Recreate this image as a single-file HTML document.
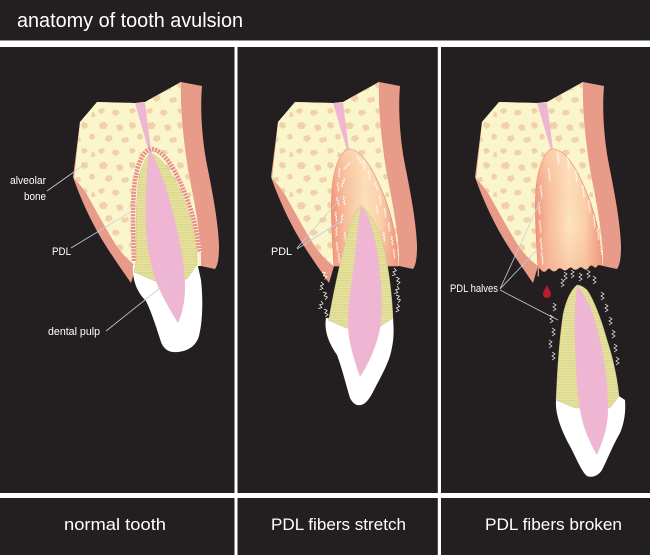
<!DOCTYPE html>
<html>
<head>
<meta charset="utf-8">
<style>
html,body{margin:0;padding:0;background:#231f20;}
svg{display:block;}
text{font-family:"Liberation Sans",sans-serif;fill:#fff;}
</style>
</head>
<body>
<svg width="650" height="555" viewBox="0 0 650 555" xmlns="http://www.w3.org/2000/svg">
<defs>
  <pattern id="spots" width="48" height="40" patternUnits="userSpaceOnUse">
    <g fill="#f1d1a7">
      <path d="M4,3 l5,-1 l3,3 l-2,4 l-5,0 l-2,-3z"/>
      <path d="M20,6 l4,-2 l3,2 l0,4 l-5,1z"/>
      <path d="M34,2 l5,1 l1,4 l-4,2 l-3,-3z"/>
      <path d="M42,14 l4,0 l1,4 l-4,2 l-2,-3z"/>
      <path d="M10,16 l5,-1 l2,4 l-4,3 l-4,-2z"/>
      <path d="M26,18 l6,-1 l1,4 l-5,2 l-3,-2z"/>
      <path d="M3,29 l4,-1 l2,3 l-3,3 l-4,-2z"/>
      <path d="M17,30 l5,0 l2,3 l-4,3 l-4,-2z"/>
      <path d="M33,29 l5,-1 l2,4 l-5,2z"/>
      <path d="M44,32 l3,1 l0,4 l-4,0z"/>
    </g>
  </pattern>
  <pattern id="hatch" width="6" height="1.6" patternUnits="userSpaceOnUse">
    <rect width="6" height="1.6" fill="#e9e5a2"/>
    <rect width="6" height="0.5" fill="#d2ce7c"/>
  </pattern>
  <linearGradient id="sg" x1="0" y1="0" x2="1" y2="0">
    <stop offset="0" stop-color="#f0907a"/>
    <stop offset="0.2" stop-color="#f8bc98"/>
    <stop offset="0.5" stop-color="#fde4bd"/>
    <stop offset="0.75" stop-color="#fad0a8"/>
    <stop offset="1" stop-color="#ef9078"/>
  </linearGradient>
  <linearGradient id="sgv" x1="0" y1="0" x2="0" y2="1">
    <stop offset="0" stop-color="#fde4bd" stop-opacity="0.5"/>
    <stop offset="0.6" stop-color="#f6b596" stop-opacity="0"/>
    <stop offset="1" stop-color="#f3a08a" stop-opacity="0.45"/>
  </linearGradient>
  <clipPath id="bclip">
    <path d="M80,122 L97,102 L135,103 L145,102 L181,82 C180,110 184,150 191,185 C196,210 200,235 201,255 L201,266 L136,266 C130,262 122,254 116,245 C107,231 98,214 90,200 C86,192 80,184 74,179 Z"/>
  </clipPath>
  <g id="bone">
    <path fill="#e99b89" d="M80,122 L97,102 L135,103 L145,102 L181,82 L202,86 C200,110 202,140 207,165 C212,190 218,220 219,245 C219,258 218,265 215,269 L201,266 L136,266 L131,283 C122,270 110,253 101,238 C91,221 81,200 73,177 Z"/>
    <path fill="#fbf5cb" d="M80,122 L97,102 L135,103 L145,102 L181,82 C180,110 184,150 191,185 C196,210 200,235 201,255 L201,266 L136,266 C130,262 122,254 116,245 C107,231 98,214 90,200 C86,192 80,184 74,179 Z"/>
    <rect x="70" y="80" width="140" height="190" fill="url(#spots)" clip-path="url(#bclip)"/>
    <path fill="#efb6d3" d="M135,103 L145,103 L151,150 L149,150 Z"/>
  </g>
  <path id="z" d="M0,0 l1.5,1.5 l-1.5,1.5 l1.8,1.8 l-1.2,1.6 l1.5,1.5 l-1.3,1.6" fill="none" stroke="#fff" stroke-width="0.7"/>
  <path id="zl" d="M0,0 l1.5,1.5 l-1.5,1.5 l1.8,1.8 l-1.2,1.6 l1.5,1.5 l-1.3,1.6 l1.6,1.5 l-1.4,1.7" fill="none" stroke="#fff" stroke-width="0.7"/>
  <path id="zw" d="M0,0 l3,2 l-3,2 l3,2 l-3,2" fill="none" stroke="#fff" stroke-width="0.7"/>
</defs>

<rect width="650" height="555" fill="#231f20"/>
<text x="17" y="27" font-size="20" textLength="226" lengthAdjust="spacingAndGlyphs">anatomy of tooth avulsion</text>

<!-- separators -->
<rect x="0" y="40.5" width="650" height="6.5" fill="#fff"/>
<rect x="0" y="493" width="650" height="5" fill="#fff"/>
<rect x="234.5" y="47" width="3" height="508" fill="#fff"/>
<rect x="437.8" y="47" width="3.2" height="508" fill="#fff"/>

<!-- bottom labels -->
<text x="64" y="530" font-size="17" textLength="102" lengthAdjust="spacingAndGlyphs">normal tooth</text>
<text x="271" y="530" font-size="17" textLength="135" lengthAdjust="spacingAndGlyphs">PDL fibers stretch</text>
<text x="485" y="530" font-size="17" textLength="137" lengthAdjust="spacingAndGlyphs">PDL fibers broken</text>

<!-- ================= PANEL 1 ================= -->
<use href="#bone"/>
<path fill="#fff" d="M133,265 C132,280 137,292 146,301 C152,313 157,330 161,342 C164,350 170,353 178,352 C188,351 196,346 199,336 C203,320 203,298 201,280 L197,262 Z"/>
<path fill="url(#hatch)" stroke="#bdbb8a" stroke-width="0.4" d="M150,153 C144,160 140,170 138,185 C136,205 136,235 136,262 L134,272 L155,281 L187,279 L197,265 C197,250 196,240 194,232 C188,208 180,188 172,175 C165,163 157,155 150,153 Z"/>
<path fill="#efb6d3" d="M135,103 L145,103 L151,152 C158,165 165,182 171,205 C178,232 185,260 185,288 C185,302 182,314 178,323 C171,312 163,298 157,284 C151,268 147,250 146,230 C145,205 146,178 149,152 Z"/>
<path fill="none" stroke="#e9927f" stroke-width="4.5" d="M134,262 C133,232 132,200 135,180 C138,162 144,150 151,149 C159,149 167,158 174,170 C184,188 193,212 197,235 C198,242 199,248 200,252"/>
<path fill="none" stroke="#fff" stroke-width="4.5" stroke-dasharray="0.9 2.3" d="M134,262 C133,232 132,200 135,180 C138,162 144,150 151,149 C159,149 167,158 174,170 C184,188 193,212 197,235 C198,242 199,248 200,252"/>
<g stroke="#c3d0dc" stroke-width="0.8" fill="none">
  <line x1="47" y1="191" x2="88" y2="162"/>
  <line x1="71" y1="248" x2="132" y2="211"/>
  <line x1="106" y1="331" x2="165" y2="284"/>
</g>
<text x="10" y="184" font-size="11" textLength="36" lengthAdjust="spacingAndGlyphs">alveolar</text>
<text x="24" y="200" font-size="11" textLength="22" lengthAdjust="spacingAndGlyphs">bone</text>
<text x="52" y="255" font-size="11" textLength="19" lengthAdjust="spacingAndGlyphs">PDL</text>
<text x="48" y="335" font-size="11" textLength="52" lengthAdjust="spacingAndGlyphs">dental pulp</text>

<!-- ================= PANEL 2 ================= -->
<g transform="translate(198,0)">
  <use href="#bone"/>
  <path fill="url(#sg)" stroke="#e98873" stroke-width="0.8" d="M136,266 C134,235 132,200 135,180 C138,162 144,150 151,149 C159,149 167,158 174,170 C184,188 193,212 197,235 C199,248 200,258 200,266 Z"/>
  <path fill="url(#sgv)" d="M136,266 C134,235 132,200 135,180 C138,162 144,150 151,149 C159,149 167,158 174,170 C184,188 193,212 197,235 C199,248 200,258 200,266 Z"/>
</g>
<use href="#z" transform="translate(339,168) rotate(10)"/>
<use href="#z" transform="translate(337,182)"/>
<use href="#z" transform="translate(336,197) rotate(-10)"/>
<use href="#z" transform="translate(335,212)"/>
<use href="#z" transform="translate(336,227) rotate(8)"/>
<use href="#z" transform="translate(336,242)"/>
<use href="#z" transform="translate(338,253)"/>
<use href="#z" transform="translate(344,178) rotate(25)"/>
<use href="#z" transform="translate(343,196)"/>
<use href="#z" transform="translate(342,214) rotate(15)"/>
<use href="#z" transform="translate(344,232)"/>
<use href="#z" transform="translate(347,248)"/>
<use href="#z" transform="translate(356,156) rotate(-30)"/>
<use href="#z" transform="translate(363,160)"/>
<use href="#z" transform="translate(368,170)"/>
<use href="#z" transform="translate(374,182) rotate(-15)"/>
<use href="#z" transform="translate(379,195)"/>
<use href="#z" transform="translate(384,208)"/>
<use href="#z" transform="translate(388,222)"/>
<use href="#z" transform="translate(391,236)"/>
<use href="#z" transform="translate(393,249)"/>
<use href="#z" transform="translate(376,205)"/>
<use href="#z" transform="translate(370,220) rotate(20)"/>
<use href="#z" transform="translate(383,232)"/>
<use href="#z" transform="translate(350,162) rotate(50)"/>
<path fill="#fff" d="M326,318 C324,330 328,342 337,355 C342,368 346,385 350,398 C353,404 357,406 361,405 C366,404 370,398 374,390 C380,378 388,365 391,352 C394,340 394,330 393,318 Z"/>
<path fill="url(#hatch)" stroke="#bdbb8a" stroke-width="0.4" d="M361,205 C356,210 350,222 346,240 C340,262 334,290 329,318 L328,320 L346,328 L378,328 L393,318 C392,295 389,270 384,248 C380,230 370,212 361,205 Z"/>
<path fill="#efb6d3" d="M361,206 C368,212 373,228 377,250 C381,275 383,305 381,322 C379,340 370,362 360,377 C355,362 349,345 348,328 C347,310 351,285 354,265 C356,245 358,222 361,206 Z"/>
<use href="#zw" transform="translate(322,272) rotate(-20)"/>
<use href="#zw" transform="translate(321,282) rotate(10)"/>
<use href="#zw" transform="translate(323,292) rotate(-15)"/>
<use href="#zw" transform="translate(321,301) rotate(20)"/>
<use href="#zw" transform="translate(324,309) rotate(-10)"/>
<use href="#zw" transform="translate(394,268) rotate(15)"/>
<use href="#zw" transform="translate(396,277) rotate(-10)"/>
<use href="#zw" transform="translate(397,286) rotate(20)"/>
<use href="#zw" transform="translate(396,295) rotate(-15)"/>
<use href="#zw" transform="translate(397,304) rotate(10)"/>
<g stroke="#c3d0dc" stroke-width="0.8" fill="none">
  <line x1="297" y1="248" x2="350" y2="188"/>
  <line x1="297" y1="249" x2="346" y2="218"/>
</g>
<text x="271" y="255" font-size="11" textLength="21" lengthAdjust="spacingAndGlyphs">PDL</text>

<!-- ================= PANEL 3 ================= -->
<g transform="translate(402,0)">
  <use href="#bone"/>
  <path fill="url(#sg)" stroke="#e98873" stroke-width="0.8" d="M136,276 L136,266 C134,235 132,200 135,180 C138,162 144,150 151,149 C159,149 167,158 174,170 C184,188 193,212 197,235 C199,248 200,258 200,266 L200,276 Z"/>
  <path fill="url(#sgv)" d="M136,276 L136,266 C134,235 132,200 135,180 C138,162 144,150 151,149 C159,149 167,158 174,170 C184,188 193,212 197,235 C199,248 200,258 200,266 L200,276 Z"/>
  <path fill="#231f20" d="M137,268 L140,271 q3,2 5,-1 q2,-3 4,0 q3,3 6,0 q2,-3 5,-1 q3,3 6,0 q3,-3 5,0 q3,2 6,-1 q2,-2 5,1 q3,2 5,-2 q2,-3 5,0 q2,2 4,-2 L202,266 L202,295 L137,295 Z"/>
</g>
<use href="#zl" transform="translate(540,185)"/>
<use href="#zl" transform="translate(538,202)"/>
<use href="#zl" transform="translate(539,220)"/>
<use href="#zl" transform="translate(540,238)"/>
<use href="#zl" transform="translate(541,252)"/>
<use href="#zl" transform="translate(548,168)"/>
<use href="#zl" transform="translate(557,152)"/>
<use href="#zl" transform="translate(567,156)"/>
<use href="#zl" transform="translate(575,170)"/>
<use href="#zl" transform="translate(582,185)"/>
<use href="#zl" transform="translate(588,200)"/>
<use href="#zl" transform="translate(593,215)"/>
<use href="#zl" transform="translate(597,228)"/>
<use href="#zl" transform="translate(600,242)"/>
<path fill="#b51f2a" d="M547,285 C548,288 551,291 551,294 A4,4 0 0 1 543,294 C543,291 546,288 547,285 Z"/>
<use href="#zw" transform="translate(564,272)"/>
<use href="#zw" transform="translate(571,270)"/>
<use href="#zw" transform="translate(579,273)"/>
<use href="#zw" transform="translate(587,270)"/>
<use href="#zw" transform="translate(593,276)"/>
<use href="#zw" transform="translate(561,279)"/>
<path fill="#fff" d="M556,400 C555,415 562,432 571,448 C577,460 582,472 587,476 C592,478 598,476 602,470 C607,460 613,445 620,433 C624,424 626,412 625,400 L619,396 Z"/>
<path fill="url(#hatch)" stroke="#bdbb8a" stroke-width="0.4" d="M577,285 C571,290 566,300 563,315 C560,335 558,360 557,380 L556,400 L575,408 L610,408 L619,396 C617,375 612,355 607,340 C601,318 593,298 587,290 C584,287 580,285 577,285 Z"/>
<path fill="#efb6d3" d="M577,286 C586,295 595,315 600,340 C605,362 608,385 608,410 C608,428 602,443 597,455 C591,445 584,430 581,415 C577,395 576,370 575,345 C574,320 575,300 577,286 Z"/>
<use href="#zw" transform="translate(553,303)"/>
<use href="#zw" transform="translate(550,315)"/>
<use href="#zw" transform="translate(552,328)"/>
<use href="#zw" transform="translate(549,340)"/>
<use href="#zw" transform="translate(552,352)"/>
<use href="#zw" transform="translate(601,292)"/>
<use href="#zw" transform="translate(605,304)"/>
<use href="#zw" transform="translate(609,317)"/>
<use href="#zw" transform="translate(612,330)"/>
<use href="#zw" transform="translate(614,344)"/>
<use href="#zw" transform="translate(616,357)"/>
<g stroke="#c3d0dc" stroke-width="0.8" fill="none">
  <line x1="500" y1="289" x2="543" y2="195"/>
  <line x1="500" y1="289" x2="537" y2="250"/>
  <line x1="500" y1="290" x2="558" y2="320"/>
</g>
<text x="450" y="292" font-size="11" textLength="48" lengthAdjust="spacingAndGlyphs">PDL halves</text>
</svg>
</body>
</html>
